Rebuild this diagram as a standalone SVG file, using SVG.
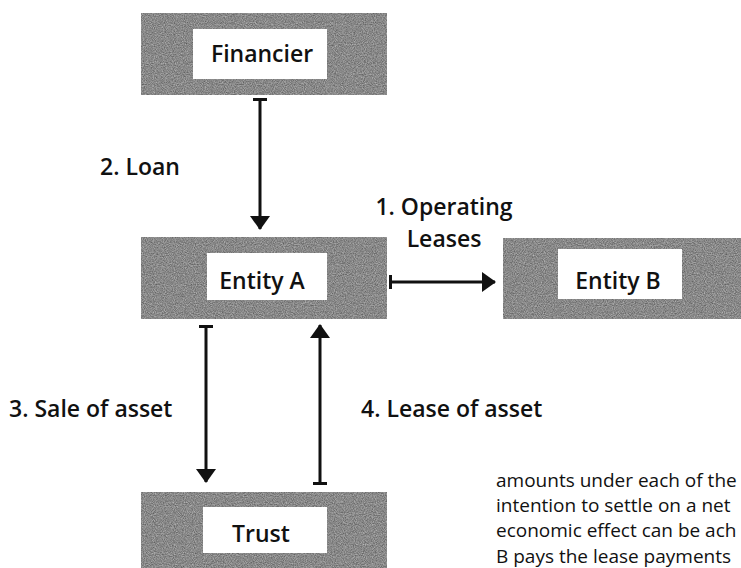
<svg xmlns="http://www.w3.org/2000/svg" width="741" height="568" viewBox="0 0 741 568">
  <style>
    .panel { fill: #8a8a8a; }
    .grainy { filter: url(#grain); }
    .plate { fill: #ffffff; }
    .name { font-family: "Open Sans", "Liberation Sans", sans-serif; font-size: 23px; font-weight: 600; fill: #111; text-anchor: middle; }
    .label { font-family: "Open Sans", "Liberation Sans", sans-serif; font-size: 23px; font-weight: 600; fill: #111; }
    .body { font-family: "Open Sans", "Liberation Sans", sans-serif; font-size: 19px; fill: #111; }
    .wire { stroke: #111; stroke-width: 3; fill: none; }
  </style>
  <defs>
    <!-- fine speckled grey texture for the node panels -->
    <filter id="grain" x="0" y="0" width="100%" height="100%" color-interpolation-filters="sRGB">
      <feTurbulence type="fractalNoise" baseFrequency="0.9" numOctaves="2" seed="7" result="noise"/>
      <feColorMatrix in="noise" type="matrix" values="0.45 0 0 0 0.31  0.45 0 0 0 0.31  0.45 0 0 0 0.31  0 0 0 0 1" result="grey"/>
      <feComposite in="grey" in2="SourceGraphic" operator="in"/>
    </filter>
    <marker id="head" viewBox="0 0 14 20" refX="13" refY="10" markerWidth="14" markerHeight="20" markerUnits="userSpaceOnUse" orient="auto">
      <path d="M0,0 L14,10 L0,20 Z" fill="#111"/>
    </marker>
    <marker id="tick" viewBox="0 0 4 14" refX="2" refY="7" markerWidth="4" markerHeight="14" markerUnits="userSpaceOnUse" orient="auto">
      <rect x="0" y="0" width="3" height="14" fill="#111"/>
    </marker>
  </defs>

  <rect width="741" height="568" fill="#ffffff"/>

  <g id="financier">
    <rect class="panel grainy" x="141" y="13" width="246" height="82"/>
    <rect class="plate" x="193" y="29" width="134" height="50"/>
    <text class="name" x="262" y="62">Financier</text>
  </g>

  <g id="entity-a">
    <rect class="panel grainy" x="141" y="237" width="246" height="82"/>
    <rect class="plate" x="207" y="253" width="120" height="47"/>
    <text class="name" x="262" y="289">Entity A</text>
  </g>

  <g id="entity-b">
    <rect class="panel grainy" x="503" y="238" width="250" height="81"/>
    <rect class="plate" x="558" y="249" width="124" height="50"/>
    <text class="name" x="618" y="289">Entity B</text>
  </g>

  <g id="trust">
    <rect class="panel grainy" x="141" y="492" width="246" height="80"/>
    <rect class="plate" x="203" y="507" width="124" height="46"/>
    <text class="name" x="261" y="542">Trust</text>
  </g>

  <g id="connectors">
    <line class="wire" x1="260" y1="100" x2="260" y2="229" marker-start="url(#tick)" marker-end="url(#head)"/>
    <line class="wire" x1="391" y1="282" x2="495" y2="282" marker-start="url(#tick)" marker-end="url(#head)"/>
    <line class="wire" x1="206" y1="327" x2="206" y2="482" marker-start="url(#tick)" marker-end="url(#head)"/>
    <line class="wire" x1="320" y1="483" x2="320" y2="325" marker-start="url(#tick)" marker-end="url(#head)"/>
  </g>

  <g id="labels">
    <text class="label" x="100" y="175">2. Loan</text>
    <text class="label" x="444" y="215" text-anchor="middle">1. Operating</text>
    <text class="label" x="444" y="247" text-anchor="middle">Leases</text>
    <text class="label" x="9" y="417">3. Sale of asset</text>
    <text class="label" x="361" y="417">4. Lease of asset</text>
  </g>

  <g id="body-text">
    <text class="body" x="496" y="487">amounts under each of the</text>
    <text class="body" x="496" y="512">intention to settle on a net</text>
    <text class="body" x="496" y="537">economic effect can be ach</text>
    <text class="body" x="496" y="563">B pays the lease payments</text>
  </g>
</svg>
